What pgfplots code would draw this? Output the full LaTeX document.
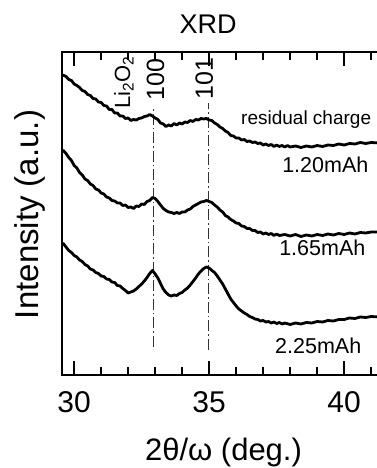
\documentclass[border=0pt]{standalone}
\usepackage{fontspec}
\setmainfont{Liberation Sans}
\usepackage{pgfplots}
\pgfplotsset{compat=1.18}
\begin{document}
\begin{tikzpicture}
\useasboundingbox (0,0) rectangle (377pt,468pt);
\clip (0,0) rectangle (377pt,468pt);
\begin{axis}[
  at={(62pt,93pt)}, anchor=south west,
  scale only axis, width=336.15pt, height=323pt,
  xmin=29.55, xmax=42, ymin=93, ymax=416,
  axis line style={line width=2.6pt},
  xtick={30,35,40}, minor xtick={31,32,33,34,36,37,38,39,41},
  ytick=\empty,
  tick align=inside,
  major tick length=14pt, minor tick length=8pt,
  tick style={black, line width=2.4pt},
  xticklabel style={font=\fontsize{30}{30}\selectfont, anchor=base, yshift=-38pt},
  /pgf/number format/assume math mode=true,
]
% dash-dot reference lines
\addplot[black!80, line width=1.3pt, dash pattern=on 11pt off 3pt on 1.5pt off 3pt] coordinates {(32.93,121) (32.93,360)};
\addplot[black!80, line width=1.3pt, dash pattern=on 11pt off 3pt on 1.5pt off 3pt] coordinates {(34.97,118) (34.97,365)};
% residual charge
\addplot[black, line width=2.8pt, line join=round] coordinates {
(29.58,393) (29.70,391.5) (29.80,388.5) (29.90,387.5) (30.00,384) (30.10,382.5) (30.20,380.5) (30.30,377.5) (30.40,376.5) (30.50,373.5)
(30.60,372.5) (30.70,369.5) (30.80,369) (30.90,366) (31.00,365.5) (31.10,362.5) (31.20,362) (31.30,358.5) (31.40,358.5) (31.50,355)
(31.60,355) (31.70,352) (31.80,352) (31.90,349.5) (32.00,350) (32.10,347.5) (32.20,348.5) (32.30,348) (32.40,349.5) (32.50,350)
(32.60,351.5) (32.70,352) (32.80,353.5) (32.90,352) (33.00,350) (33.10,348.5) (33.20,345) (33.30,344) (33.40,341.5) (33.50,343)
(33.60,342) (33.70,344.5) (33.80,343) (33.90,345) (34.00,344) (34.10,346) (34.20,345.5) (34.30,347.5) (34.40,346.5) (34.50,348.5)
(34.60,348) (34.70,349.5) (34.80,349) (34.90,349.5) (35.00,348) (35.10,347.5) (35.20,345) (35.30,343.5) (35.40,341) (35.50,339.5)
(35.60,337) (35.70,335.5) (35.80,332.5) (35.90,332) (36.00,330) (36.10,330) (36.20,328) (36.30,328.5) (36.40,326.5) (36.50,327)
(36.60,325.5) (36.70,326) (36.80,324.5) (36.90,325) (37.00,323) (37.10,324) (37.20,322.5) (37.30,323.5) (37.40,321.5) (37.50,323)
(37.60,321.5) (37.70,322.5) (37.80,321) (37.90,322.5) (38.00,321) (38.20,322) (38.40,320.5) (38.60,322) (38.80,321) (39.00,322.5)
(39.20,321.5) (39.40,323) (39.60,322.5) (39.80,324) (40.00,323) (40.20,324.5) (40.40,324) (40.60,325.5) (40.80,324.5) (41.00,325.5) (41.30,325)
};
% 1.20 mAh
\addplot[black, line width=2.8pt, line join=round] coordinates {
(29.58,318) (29.70,314.5) (29.80,310.5) (29.90,307.5) (30.00,302.5) (30.10,300) (30.20,295.5) (30.30,293) (30.40,289) (30.50,287.5)
(30.60,284) (30.70,282.5) (30.80,279) (30.90,278) (31.00,275) (31.10,274) (31.20,271) (31.30,270) (31.40,267.5) (31.50,267)
(31.60,265) (31.70,265) (31.80,262.5) (31.90,263) (32.00,260.5) (32.10,261) (32.20,259.5) (32.30,262) (32.40,261.5) (32.50,264)
(32.60,263.5) (32.70,266.5) (32.80,267.5) (32.90,270.5) (33.00,269.5) (33.10,266.5) (33.20,263) (33.30,259.5) (33.40,257.5) (33.50,256)
(33.60,255.5) (33.70,254.5) (33.80,255.5) (33.90,254.5) (34.00,256) (34.10,256) (34.20,258) (34.30,259) (34.40,261.5) (34.50,263)
(34.60,264.5) (34.70,266) (34.80,266.5) (34.90,267.5) (35.00,266.5) (35.10,265.5) (35.20,263) (35.30,261) (35.40,258) (35.50,256)
(35.60,252.5) (35.70,251) (35.80,248.5) (35.90,247) (36.00,245) (36.10,244.5) (36.20,242) (36.30,241.5) (36.40,239.5) (36.50,239.5)
(36.60,237.5) (36.70,237.5) (36.80,235.5) (36.90,236) (37.00,234) (37.10,235) (37.20,233.5) (37.30,234.5) (37.40,232.5) (37.50,234)
(37.60,232.5) (37.80,233.5) (38.00,232) (38.20,233.5) (38.40,231.5) (38.60,233) (38.80,232) (39.00,233.5) (39.20,232.5) (39.40,234)
(39.60,233) (39.80,234.5) (40.00,233.5) (40.20,235) (40.40,234) (40.60,235.5) (40.80,235) (41.00,236) (41.30,236)
};
% 1.65 mAh
\addplot[black, line width=2.8pt, line join=round] coordinates {
(29.58,225) (29.70,221) (29.80,217.5) (29.90,215.5) (30.00,212.5) (30.10,211) (30.20,208) (30.30,206.5) (30.40,203.5) (30.50,202)
(30.60,199) (30.70,198) (30.80,195.5) (30.90,194.5) (31.00,192) (31.10,191.5) (31.20,189) (31.30,188.5) (31.40,186) (31.50,185.5)
(31.60,182.5) (31.70,182) (31.80,179.5) (31.90,177.5) (32.00,175) (32.10,176) (32.20,177) (32.30,179) (32.40,181.5) (32.50,184)
(32.60,187) (32.70,190.5) (32.80,194.5) (32.90,197.5) (33.00,194) (33.10,190) (33.20,184.5) (33.30,179) (33.40,175.5) (33.50,173)
(33.60,172) (33.70,173) (33.80,172.5) (33.90,174.5) (34.00,175.5) (34.10,178) (34.20,180) (34.30,183) (34.40,186.5) (34.50,190)
(34.60,194) (34.70,197) (34.80,199.5) (34.90,201) (35.00,200) (35.10,197.5) (35.20,195.5) (35.30,192) (35.40,188) (35.50,184)
(35.60,179) (35.70,174) (35.80,169) (35.90,165.5) (36.00,162) (36.10,159) (36.20,157) (36.30,155) (36.40,153.5) (36.50,151.5)
(36.60,150.5) (36.70,149) (36.80,148.5) (36.90,147) (37.00,147.5) (37.10,146) (37.20,146.5) (37.30,145) (37.40,146) (37.50,144.5)
(37.60,145.5) (37.70,144) (37.80,145) (38.00,143.5) (38.20,145) (38.40,144) (38.60,145.5) (38.80,145) (39.00,146.5) (39.20,146)
(39.40,147.5) (39.60,147) (39.80,148.5) (40.00,148.5) (40.20,150) (40.40,149.5) (40.60,151) (40.80,150.5) (41.00,151.5) (41.30,151)
};
% labels
\node[anchor=base west, inner sep=0, font=\fontsize{19}{19}\selectfont] at (axis cs:36.18,343) {residual charge};
\node[anchor=base west, inner sep=0, font=\fontsize{21.5}{21.5}\selectfont] at (axis cs:37.70,295) {1.20mAh};
\node[anchor=base west, inner sep=0, font=\fontsize{21.5}{21.5}\selectfont] at (axis cs:37.59,212) {1.65mAh};
\node[anchor=base west, inner sep=0, font=\fontsize{21.5}{21.5}\selectfont] at (axis cs:37.44,114) {2.25mAh};
\node[rotate=90, anchor=base west, inner sep=0, font=\fontsize{22}{22}\selectfont] at (axis cs:32.07,359) {Li\textsubscript{2}O\textsubscript{2}};
\node[rotate=90, anchor=base west, inner sep=0, font=\fontsize{25}{25}\selectfont] at (axis cs:33.33,367) {100};
\node[rotate=90, anchor=base west, inner sep=0, font=\fontsize{25}{25}\selectfont] at (axis cs:35.14,368) {101};
\end{axis}
\node[anchor=base, inner sep=0, font=\fontsize{27}{27}\selectfont] at (208pt,434pt) {XRD};
\node[rotate=90, anchor=base, inner sep=0, font=\fontsize{33}{33}\selectfont] at (38pt,253.5pt) {Intensity (a.u.)};
\node[anchor=base, inner sep=0, font=\fontsize{31}{31}\selectfont] at (223.5pt,7pt) {2θ/ω (deg.)};
\end{tikzpicture}
\end{document}
